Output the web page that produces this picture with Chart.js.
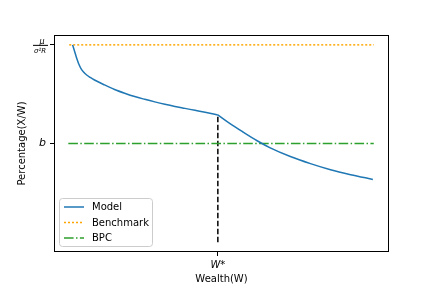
<!DOCTYPE html>
<html>
<head>
<meta charset="utf-8">
<script src="https://cdn.jsdelivr.net/npm/chart.js@4"></script>
<style>
  html, body { margin: 0; padding: 0; background: #fff; }
  #wrap { width: 432px; height: 288px; }
</style>
</head>
<body>
<div id="wrap"><canvas id="chart" width="432" height="288"></canvas></div>
<script>
// data (x = wealth, y = share of wealth)
// model curve has a kink at W*, so it is kept as two pieces
const modelW1 = [0.11, 0.155, 0.2, 0.254, 0.31, 0.386, 0.47, 0.584, 0.69, 0.83, 1.16, 1.49, 1.82, 2.15, 2.48, 2.81, 3.14, 3.47, 3.8, 4.13, 4.46, 4.88];
const modelPct1 = [1.0, 0.978, 0.955, 0.928, 0.904, 0.880, 0.862, 0.846, 0.835, 0.822, 0.797, 0.774, 0.755, 0.738, 0.724, 0.711, 0.699, 0.688, 0.678, 0.668, 0.658, 0.645];
const modelW2 = [4.88, 5.28, 5.71, 6.17, 6.6, 7.26, 7.92, 8.58, 9.24, 9.97];
const modelPct2 = [0.645, 0.601, 0.558, 0.514, 0.478, 0.434, 0.398, 0.367, 0.342, 0.318];
const benchW = [0, 10];
const benchPct = [1.0, 1.0];
const bpcW = [-0.03, 10];
const bpcPct = [0.5, 0.5];
const wStar = 4.88;
const wStarLine = [0, 0.645];
const yTicks = [0.5, 1.0];
const yTickLabels = ['b', ''];   // top tick is the fraction mu/(sigma^2 R), drawn below
const xTickLabel = 'W*';

const pts = (xs, ys) => xs.map((x, i) => ({x: x, y: ys[i]}));

// box round the plot + legend + fraction tick label
const extras = {
    id: 'extras',
    afterDraw(chart) {
        const c = chart.ctx, a = chart.chartArea;
        c.save();
        c.strokeStyle = '#000';
        c.lineWidth = 1;
        c.strokeRect(a.left + 0.5, a.top + 0.5, a.right - a.left - 1, a.bottom - a.top - 1);

        // fraction label on the top y tick
        const yv = chart.scales.y.getPixelForValue(1.0);
        c.fillStyle = '#000';
        c.textAlign = 'center';
        c.textBaseline = 'alphabetic';
        c.font = 'italic 8px "DejaVu Sans"';
        c.fillText('\u03bc', 42, yv - 1);
        c.fillRect(33, yv, 15, 1);
        c.font = 'italic 7px "DejaVu Sans"';
        c.fillText('\u03c3\u00b2R', 40, yv + 8);

        // legend
        const lx = 59, ly = 198, lw = 93, lh = 48;
        c.fillStyle = 'rgba(255,255,255,0.8)';
        c.strokeStyle = '#cccccc';
        c.beginPath();
        c.roundRect(lx + 0.5, ly + 0.5, lw, lh, 3);
        c.fill();
        c.stroke();
        c.font = '10px "DejaVu Sans"';
        c.textAlign = 'left';
        c.textBaseline = 'middle';
        let row = 0;
        chart.data.datasets.forEach(ds => {
            if (!ds.label) return;
            const ry = ly + 9 + row * 15.5;
            row++;
            c.strokeStyle = ds.borderColor;
            c.lineWidth = ds.borderWidth;
            c.setLineDash(ds.borderDash || []);
            c.beginPath();
            c.moveTo(lx + 5, ry);
            c.lineTo(lx + 25, ry);
            c.stroke();
            c.setLineDash([]);
            c.fillStyle = '#000';
            c.fillText(ds.label, lx + 33, ry + 0.5);
        });
        c.restore();
    }
};

new Chart(document.getElementById('chart'), {
    type: 'line',
    data: {
        datasets: [
            {label: 'Model', data: pts(modelW1, modelPct1), borderColor: '#1f77b4', borderWidth: 1.5, cubicInterpolationMode: 'monotone'},
            {label: '', data: pts(modelW2, modelPct2), borderColor: '#1f77b4', borderWidth: 1.5, cubicInterpolationMode: 'monotone'},
            {label: 'Benchmark', data: pts(benchW, benchPct), borderColor: '#ffa500', borderWidth: 1.5, borderDash: [2, 2]},
            {label: 'BPC', data: pts(bpcW, bpcPct), borderColor: '#2ca02c', borderWidth: 1.5, borderDash: [9.6, 2.4, 1.5, 2.4]},
            {label: '', data: pts([wStar, wStar], wStarLine), borderColor: '#000', borderWidth: 1.5, borderDash: [5.5, 2.5]}
        ]
    },
    options: {
        responsive: false,
        animation: false,
        parsing: false,
        elements: {point: {radius: 0}, line: {tension: 0, borderCapStyle: 'butt'}},
        layout: {padding: {left: 0, right: 43, top: 35, bottom: 0}},
        plugins: {legend: {display: false}, tooltip: {enabled: false}},
        scales: {
            x: {
                type: 'linear', min: -0.5, max: 10.5,
                afterFit: s => { s.height = 36; },
                afterBuildTicks: s => { s.ticks = [{value: wStar}]; },
                grid: {drawOnChartArea: false, tickLength: 4, color: '#000'},
                border: {display: false},
                ticks: {
                    callback: () => xTickLabel,
                    color: '#000', padding: 3,
                    font: {family: 'DejaVu Sans', size: 10, style: 'italic'},
                    maxRotation: 0
                },
                title: {
                    display: true, text: 'Wealth(W)', color: '#000',
                    font: {family: 'DejaVu Sans', size: 10},
                    padding: {top: 0, bottom: 3}
                }
            },
            y: {
                type: 'linear', min: -0.05, max: 1.05,
                afterFit: s => { s.width = 54; },
                afterBuildTicks: s => { s.ticks = yTicks.map(v => ({value: v})); },
                grid: {drawOnChartArea: false, tickLength: 4, color: '#000'},
                border: {display: false},
                ticks: {
                    callback: (v) => yTickLabels[yTicks.indexOf(v)],
                    color: '#000', padding: 4,
                    font: {family: 'DejaVu Sans', size: 11, style: 'italic'}
                },
                title: {
                    display: true, text: 'Percentage(X/W)', color: '#000',
                    font: {family: 'DejaVu Sans', size: 10},
                    padding: {top: 16, bottom: 0}
                }
            }
        }
    },
    plugins: [extras]
});
</script>
</body>
</html>
